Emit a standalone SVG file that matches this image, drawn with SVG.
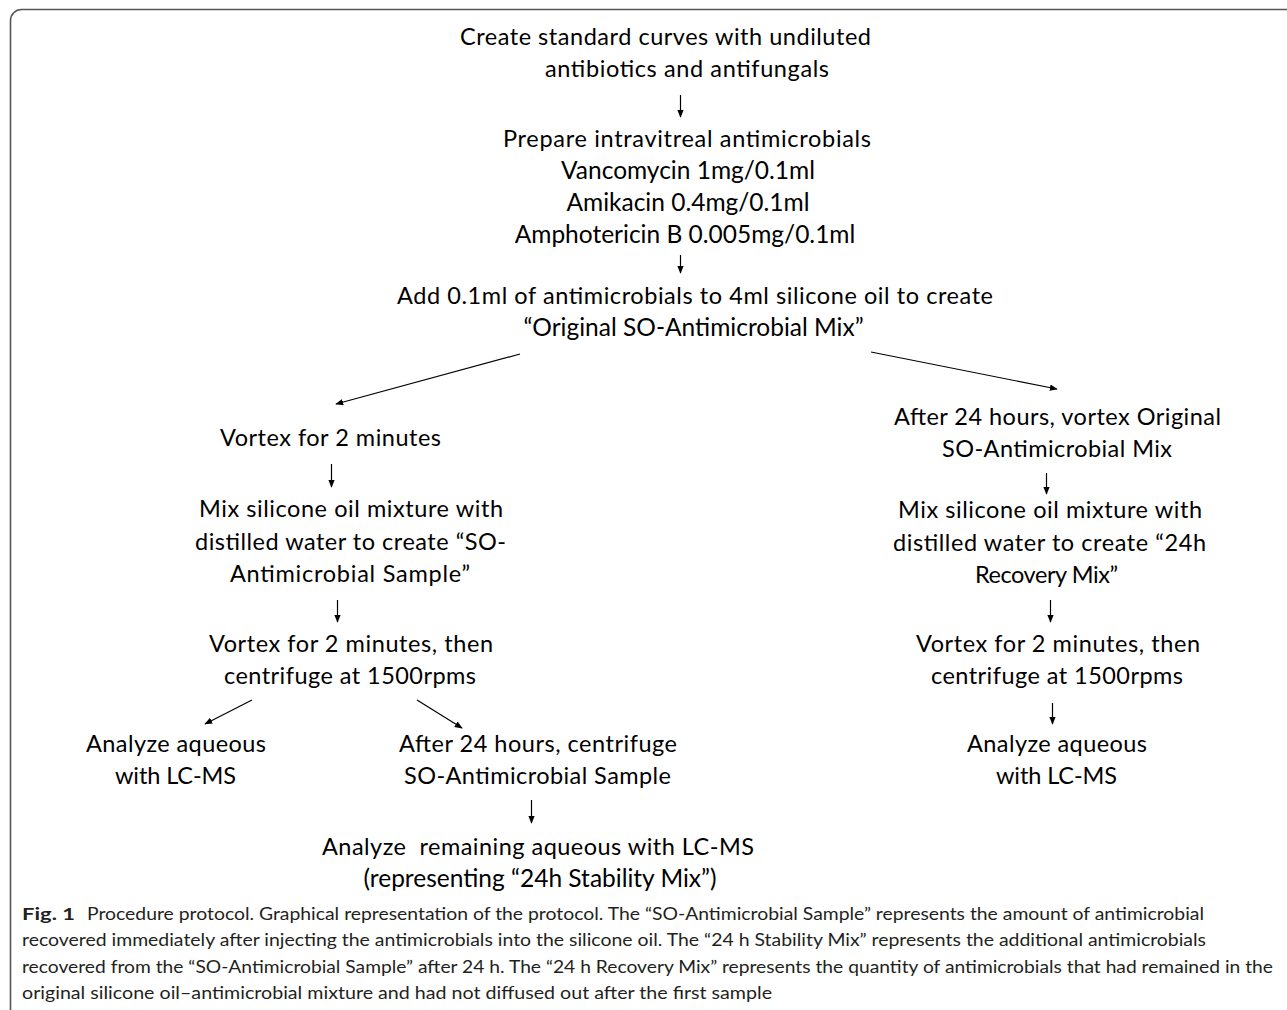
<svg xmlns="http://www.w3.org/2000/svg" width="1287" height="1010" viewBox="0 0 1287 1010">
<defs>
<style>
.t{font-family:Lato,"Open Sans","Liberation Sans",sans-serif;font-size:23.5px;fill:#000}
.m{text-anchor:middle;font-size:24.5px}
.c{font-family:Lato,"Noto Sans","Liberation Sans",sans-serif;font-size:17.5px;fill:#231f20}
.cb{font-weight:bold}
.ln{stroke:#000;stroke-width:1.2;fill:none;marker-end:url(#ah)}
</style>
<marker id="ah" viewBox="0 0 10 8" refX="9" refY="4" markerWidth="8" markerHeight="6.4" markerUnits="userSpaceOnUse" orient="auto">
<path d="M0,0 L10,4 L0,8 z" fill="#000"/>
</marker>
</defs>
<rect width="1287" height="1010" fill="#fff"/>
<rect x="10.5" y="9.5" width="1300" height="1030" rx="11" fill="none" stroke="#555" stroke-width="1.6"/>

<g id="n1"><text class="t" x="460" y="45" textLength="411" lengthAdjust="spacing">Create standard curves with undiluted</text>
<text class="t" x="545" y="77" textLength="284" lengthAdjust="spacing">antibiotics and antifungals</text></g>
<g id="n2"><text class="t" x="503" y="147" textLength="368" lengthAdjust="spacing">Prepare intravitreal antimicrobials</text>
<text class="t m" x="688" y="179">Vancomycin 1mg/0.1ml</text>
<text class="t m" x="688" y="211">Amikacin 0.4mg/0.1ml</text>
<text class="t m" x="685" y="243">Amphotericin B 0.005mg/0.1ml</text></g>
<g id="n3"><text class="t" x="397" y="304" textLength="596" lengthAdjust="spacing">Add 0.1ml of antimicrobials to 4ml silicone oil to create</text>
<text class="t m" x="693.5" y="336">“Original SO-Antimicrobial Mix”</text></g>
<g id="n4"><text class="t" x="220" y="446" textLength="221" lengthAdjust="spacing">Vortex for 2 minutes</text></g>
<g id="n5"><text class="t" x="199" y="517" textLength="304" lengthAdjust="spacing">Mix silicone oil mixture with</text>
<text class="t" x="195" y="550" textLength="311" lengthAdjust="spacing">distilled water to create “SO-</text>
<text class="t" x="230" y="582" textLength="240" lengthAdjust="spacing">Antimicrobial Sample”</text></g>
<g id="n6"><text class="t" x="209" y="652" textLength="284" lengthAdjust="spacing">Vortex for 2 minutes, then</text>
<text class="t" x="224" y="684" textLength="252" lengthAdjust="spacing">centrifuge at 1500rpms</text></g>
<g id="n7"><text class="t" x="86" y="752" textLength="180" lengthAdjust="spacing">Analyze aqueous</text>
<text class="t" x="115" y="784" textLength="121" lengthAdjust="spacing">with LC-MS</text></g>
<g id="n8"><text class="t" x="399" y="752" textLength="278" lengthAdjust="spacing">After 24 hours, centrifuge</text>
<text class="t" x="404" y="784" textLength="267" lengthAdjust="spacing">SO-Antimicrobial Sample</text></g>
<g id="n9"><text class="t" x="322" y="855" textLength="432" lengthAdjust="spacing" xml:space="preserve">Analyze  remaining aqueous with LC-MS</text>
<text class="t m" x="540" y="887">(representing “24h Stability Mix”)</text></g>
<g id="n10"><text class="t" x="894" y="425" textLength="327" lengthAdjust="spacing">After 24 hours, vortex Original</text>
<text class="t" x="942" y="457" textLength="230" lengthAdjust="spacing">SO-Antimicrobial Mix</text></g>
<g id="n11"><text class="t" x="898" y="518" textLength="304" lengthAdjust="spacing">Mix silicone oil mixture with</text>
<text class="t" x="893" y="551" textLength="313" lengthAdjust="spacing">distilled water to create “24h</text>
<text class="t" x="975" y="583" textLength="143" lengthAdjust="spacing">Recovery Mix”</text></g>
<g id="n12"><text class="t" x="916" y="652" textLength="284" lengthAdjust="spacing">Vortex for 2 minutes, then</text>
<text class="t" x="931" y="684" textLength="252" lengthAdjust="spacing">centrifuge at 1500rpms</text></g>
<g id="n13"><text class="t" x="967" y="752" textLength="180" lengthAdjust="spacing">Analyze aqueous</text>
<text class="t" x="996" y="784" textLength="121" lengthAdjust="spacing">with LC-MS</text></g>

<g id="connectors">
<line class="ln" x1="680.5" y1="95" x2="680.5" y2="117"/>
<line class="ln" x1="680.5" y1="255" x2="680.5" y2="273"/>
<line class="ln" x1="520" y1="354" x2="336" y2="404"/>
<line class="ln" x1="871" y1="352" x2="1057" y2="389"/>
<line class="ln" x1="331.5" y1="464" x2="331.5" y2="487"/>
<line class="ln" x1="337.5" y1="600" x2="337.5" y2="622"/>
<line class="ln" x1="252" y1="700" x2="205" y2="724"/>
<line class="ln" x1="417" y1="700" x2="462" y2="728"/>
<line class="ln" x1="531.5" y1="800" x2="531.5" y2="823"/>
<line class="ln" x1="1046.5" y1="473" x2="1046.5" y2="494"/>
<line class="ln" x1="1050.5" y1="600" x2="1050.5" y2="622"/>
<line class="ln" x1="1052.5" y1="703" x2="1052.5" y2="724"/>
</g>

<g id="caption">
<text class="c cb" x="22" y="920" textLength="53" lengthAdjust="spacingAndGlyphs">Fig. 1</text>
<text class="c" x="87" y="920" textLength="1117" lengthAdjust="spacingAndGlyphs">Procedure protocol. Graphical representation of the protocol. The “SO-Antimicrobial Sample” represents the amount of antimicrobial</text>
<text class="c" x="22" y="946" textLength="1184" lengthAdjust="spacingAndGlyphs">recovered immediately after injecting the antimicrobials into the silicone oil. The “24 h Stability Mix” represents the additional antimicrobials</text>
<text class="c" x="22" y="973" textLength="1251" lengthAdjust="spacingAndGlyphs">recovered from the “SO-Antimicrobial Sample” after 24 h. The “24 h Recovery Mix” represents the quantity of antimicrobials that had remained in the</text>
<text class="c" x="22" y="999" textLength="750" lengthAdjust="spacingAndGlyphs">original silicone oil–antimicrobial mixture and had not diffused out after the first sample</text>
</g>
</svg>
